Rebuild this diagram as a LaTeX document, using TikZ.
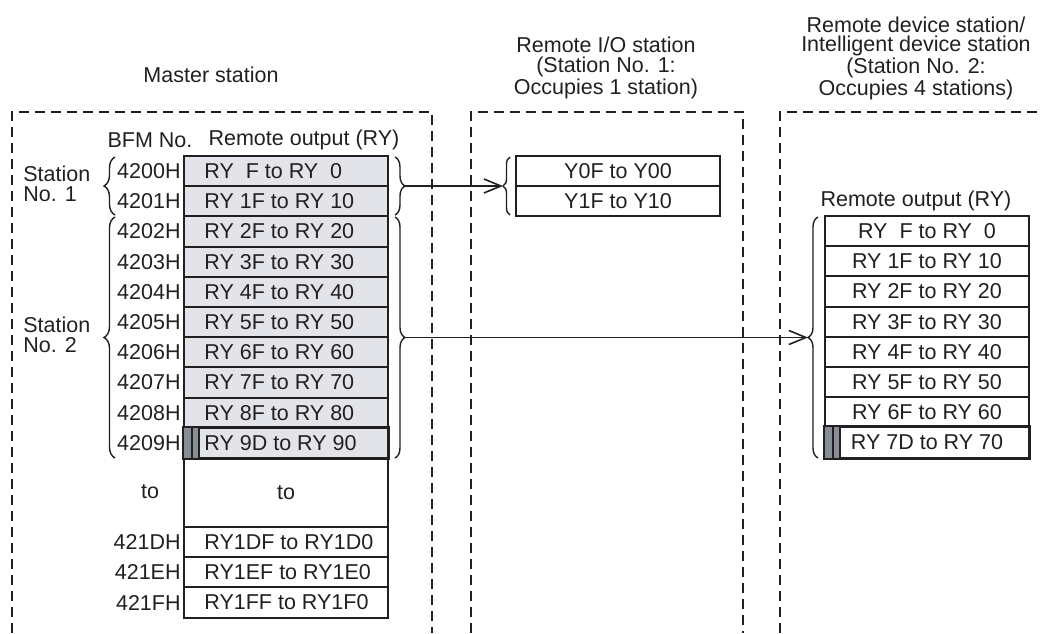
\documentclass[tikz,border=0pt]{standalone}
\usepackage{fontspec}
\setmainfont{Liberation Sans}
\definecolor{rowgrey}{RGB}{226, 228, 233}
\definecolor{bargrey}{RGB}{134, 141, 148}
\definecolor{inkgrey}{RGB}{35, 31, 32}
\usetikzlibrary{positioning, arrows.meta, calc, decorations.pathreplacing}

\begin{document}
\begin{tikzpicture}[x=0.5pt, y=-0.5pt, >={Straight Barb[length=8.5pt, width=7pt]},
    every node/.style={font=\fontsize{10.75}{9.6}\selectfont, text=inkgrey, inner sep=0pt},
    frame/.style={draw=inkgrey, line width=1pt, dash pattern=on 5pt off 3pt},
    cell/.style={draw=inkgrey, line width=1pt, rectangle, minimum width=102pt, minimum height=15.1pt},
    curly/.style={draw=inkgrey, line width=0.7pt, decorate, decoration={brace, amplitude=#1}},
    link/.style={draw=inkgrey, line width=0.8pt, ->}]
    \useasboundingbox (0,0) rectangle (1040,633);

    % station frames, open at the bottom
    \draw [frame] (12,633) -- (12,112) -- (432,112) -- (432,633);
    \draw [frame] (471,633) -- (471,112) -- (743,112) -- (743,633);
    \draw [frame] (780,633) -- (780,112) -- (1040,112);

    \node (mastertitle) at (211,75) {Master station};
    \node [align=center] (iotitle) at (606,68) {Remote I/O station\\(Station No. 1:\\Occupies 1 station)};
    \node [align=center] (devtitle) at (916,58.5) {Remote device station/\\Intelligent device station\\(Station No. 2:\\Occupies 4 stations)};

    % master station buffer memory
    \node (bfmhead) at (150,140) {BFM No.};
    \node (ryhead) at (304,140) {Remote output (RY)};
    \foreach \i/\addr/\ry in {0/4200H/{RY\ \ F to RY\ \ 0}, 1/4201H/{RY 1F to RY 10}, 2/4202H/{RY 2F to RY 20},
        3/4203H/{RY 3F to RY 30}, 4/4204H/{RY 4F to RY 40}, 5/4205H/{RY 5F to RY 50}, 6/4206H/{RY 6F to RY 60},
        7/4207H/{RY 7F to RY 70}, 8/4208H/{RY 8F to RY 80}, 9/4209H/{RY 9D to RY 90}} {
        \node [cell, fill=rowgrey] (m\i) at (286, {171.1+30.2*\i}) {};
        \node [anchor=west] (mt\i) at ([xshift=10.5pt]m\i.west) {\ry};
        \node [anchor=east] (ma\i) at ([xshift=-1pt]m\i.west) {\addr};
    }
    \node [cell, minimum height=34.5pt] (mto) at (286,492.5) {to};
    \node (ato) at (150,492) {to};
    \foreach \i/\addr/\ry in {10/421DH/RY1DF to RY1D0, 11/421EH/RY1EF to RY1E0, 12/421FH/RY1FF to RY1F0} {
        \node [cell] (m\i) at (286, {542.1+30.2*(\i-10)}) {};
        \node [anchor=west] (mt\i) at ([xshift=10.5pt]m\i.west) {\ry};
        \node [anchor=east] (ma\i) at ([xshift=-1pt]m\i.west) {\addr};
    }
    \fill [bargrey] (m9.north west) rectangle ([xshift=8pt]m9.south west);
    \draw [inkgrey, line width=1pt] ([xshift=4.5pt]m9.north west) -- ([xshift=4.5pt]m9.south west);
    \draw [inkgrey, line width=1pt] ([xshift=8pt]m9.north west) -- ([xshift=8pt]m9.south west);
    \draw [inkgrey, line width=1pt] (m9.north west) rectangle (m9.south east);

    \node [anchor=west, align=left, font=\fontsize{10.75}{10}\selectfont] (stone) at (23,184) {Station\\No. 1};
    \node [anchor=west, align=left, font=\fontsize{10.75}{10}\selectfont] (sttwo) at (23,335) {Station\\No. 2};

    % remote I/O station
    \node [cell] (io0) at (618,171.1) {Y0F to Y00};
    \node [cell] (io1) at (618,201.3) {Y1F to Y10};

    % remote device station
    \node (devhead) at (916,201) {Remote output (RY)};
    \foreach \i/\ry in {0/{RY\ \ F to RY\ \ 0}, 1/{RY 1F to RY 10}, 2/{RY 2F to RY 20}, 3/{RY 3F to RY 30},
        4/{RY 4F to RY 40}, 5/{RY 5F to RY 50}, 6/{RY 6F to RY 60}, 7/{RY 7D to RY 70}} {
        \node [cell] (d\i) at (927, {231.1+30.2*\i}) {\ry};
    }
    \fill [bargrey] (d7.north west) rectangle ([xshift=8pt]d7.south west);
    \draw [inkgrey, line width=1pt] ([xshift=4.5pt]d7.north west) -- ([xshift=4.5pt]d7.south west);
    \draw [inkgrey, line width=1pt] ([xshift=8pt]d7.north west) -- ([xshift=8pt]d7.south west);
    \draw [inkgrey, line width=1pt] (d7.north west) rectangle (d7.south east);

    % braces
    \draw [curly=5.5pt] (115,215) -- (115,157);
    \draw [curly=5.5pt] (115,458) -- (115,217);
    \draw [curly=5pt] (395,157) -- (395,215);
    \draw [curly=5pt] (395,217) -- (395,458);
    \draw [curly=3.5pt] (510,215) -- (510,157);
    \draw [curly=5pt] (818,458) -- (818,217);

    \coordinate (tipone) at (405,186);
    \coordinate (tipio) at (503,186);
    \coordinate (tiptwo) at (405,337.5);
    \coordinate (tipdev) at (808,337.5);
    \draw [link] (tipone) -- (tipio);
    \draw [link] (tiptwo) -- (tipdev);
\end{tikzpicture}
\end{document}
